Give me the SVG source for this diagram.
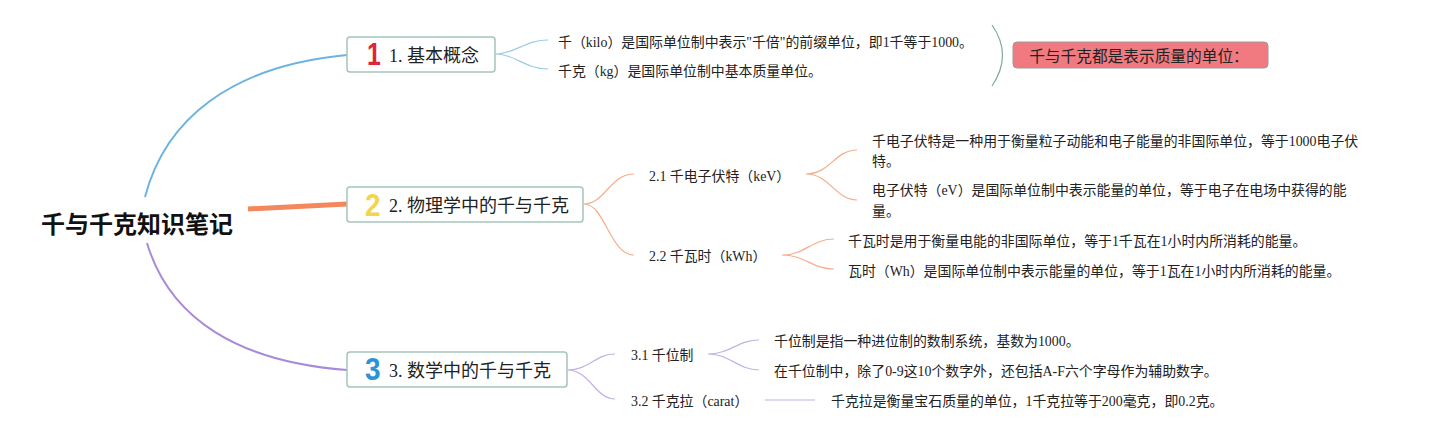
<svg xmlns="http://www.w3.org/2000/svg" width="1432" height="440" viewBox="0 0 1432 440">
<style>
.leaf{font-family:"Liberation Serif","Noto Sans CJK SC",serif;font-size:13.9px;fill:#222;dominant-baseline:central}
.topic{font-family:"Liberation Serif","Noto Sans CJK SC",serif;font-size:18px;fill:#222;dominant-baseline:central}
.box{fill:#fff;stroke:#a5c5bc;stroke-width:1.5}
.num{font-family:"Liberation Sans",Arial,sans-serif;font-weight:bold;font-size:31px;dominant-baseline:central}
.root{font-family:"Noto Sans CJK SC",sans-serif;font-weight:bold;font-size:24px;fill:#111;dominant-baseline:central}
.c1{fill:none;stroke:#9ccbea;stroke-width:1.2}
.c2{fill:none;stroke:#f5ae8c;stroke-width:1.2}
.c3{fill:none;stroke:#c2b0e6;stroke-width:1.2}
</style>
<rect width="1432" height="440" fill="#fff"/>
<g id="connectors">
<path d="M145,197 C165,120 230,66 347,55" fill="none" stroke="#6cb4df" stroke-width="2"/>
<path d="M248,209 L347,204" fill="none" stroke="#f4875c" stroke-width="5"/>
<path d="M147,243 C170,320 240,362 347,370" fill="none" stroke="#a88bd8" stroke-width="2"/>
<path class="c1" d="M495,54 C515,54 525,40 548,40 M495,54 C515,54 525,69 548,69"/>
<path class="c2" d="M584,204 C605,204 610,174 634,174 M584,204 C605,204 610,255 634,255"/>
<path class="c2" d="M806,174 C830,174 835,150 857,150 M806,174 C830,174 835,200 857,200"/>
<path class="c2" d="M782,255 C805,255 812,239 834,239 M782,255 C805,255 812,269 834,269"/>
<path class="c3" d="M567,370 C590,370 595,354 615,354 M567,370 C590,370 595,399 615,399"/>
<path class="c3" d="M708,354 C730,354 738,340 759,340 M708,354 C730,354 738,370 759,370"/>
<path class="c3" d="M765,400 L815,400"/>
<path d="M992,25 Q1013,55 992,86" fill="none" stroke="#7fa99d" stroke-width="1.2"/>
</g>
<g id="root"><text class="root" x="137" y="222" text-anchor="middle">千与千克知识笔记</text></g>
<g id="topic1">
<rect class="box" x="347" y="37" width="148" height="35" rx="3"/>
<text class="num" x="0" y="0" fill="#e0243a" transform="translate(367,55) scale(0.8,1)">1</text>
<text class="topic" x="389" y="56">1. 基本概念</text>
</g>
<g id="topic2">
<rect class="box" x="347" y="187" width="236" height="35" rx="3"/>
<text class="num" x="0" y="0" fill="#f3d44c" transform="translate(365,205) scale(0.9,1)">2</text>
<text class="topic" x="389" y="206">2. 物理学中的千与千克</text>
</g>
<g id="topic3">
<rect class="box" x="347" y="352" width="220" height="35" rx="3"/>
<text class="num" x="0" y="0" fill="#2b93d6" transform="translate(365,369) scale(0.9,1)">3</text>
<text class="topic" x="389" y="371">3. 数学中的千与千克</text>
</g>
<g id="leaf1a"><text class="leaf" x="558" y="42">千（kilo）是国际单位制中表示"千倍"的前缀单位，即1千等于1000。</text></g>
<g id="leaf1b"><text class="leaf" x="558" y="71">千克（kg）是国际单位制中基本质量单位。</text></g>
<g id="summary">
<rect x="1013" y="42" width="255" height="26" rx="4" fill="#f07a80" stroke="#9a9a9a" stroke-width="1"/>
<text x="1139" y="55" text-anchor="middle" style="font-family:'Noto Sans CJK SC',sans-serif;font-size:15.7px;fill:#222;dominant-baseline:central">千与千克都是表示质量的单位：</text>
</g>
<g id="sub21"><text class="leaf" x="649" y="176">2.1 千电子伏特（keV）</text></g>
<g id="sub22"><text class="leaf" x="649" y="256">2.2 千瓦时（kWh）</text></g>
<g id="leaf21a"><text class="leaf" x="872" y="141">千电子伏特是一种用于衡量粒子动能和电子能量的非国际单位，等于1000电子伏</text><text class="leaf" x="872" y="161">特。</text></g>
<g id="leaf21b"><text class="leaf" x="872" y="190">电子伏特（eV）是国际单位制中表示能量的单位，等于电子在电场中获得的能</text><text class="leaf" x="872" y="211">量。</text></g>
<g id="leaf22a"><text class="leaf" x="848" y="241">千瓦时是用于衡量电能的非国际单位，等于1千瓦在1小时内所消耗的能量。</text></g>
<g id="leaf22b"><text class="leaf" x="848" y="271">瓦时（Wh）是国际单位制中表示能量的单位，等于1瓦在1小时内所消耗的能量。</text></g>
<g id="sub31"><text class="leaf" x="631" y="355">3.1 千位制</text></g>
<g id="sub32"><text class="leaf" x="631" y="401">3.2 千克拉（carat）</text></g>
<g id="leaf31a"><text class="leaf" x="774" y="341">千位制是指一种进位制的数制系统，基数为1000。</text></g>
<g id="leaf31b"><text class="leaf" x="774" y="371">在千位制中，除了0-9这10个数字外，还包括A-F六个字母作为辅助数字。</text></g>
<g id="leaf32"><text class="leaf" x="831" y="401">千克拉是衡量宝石质量的单位，1千克拉等于200毫克，即0.2克。</text></g>
</svg>
